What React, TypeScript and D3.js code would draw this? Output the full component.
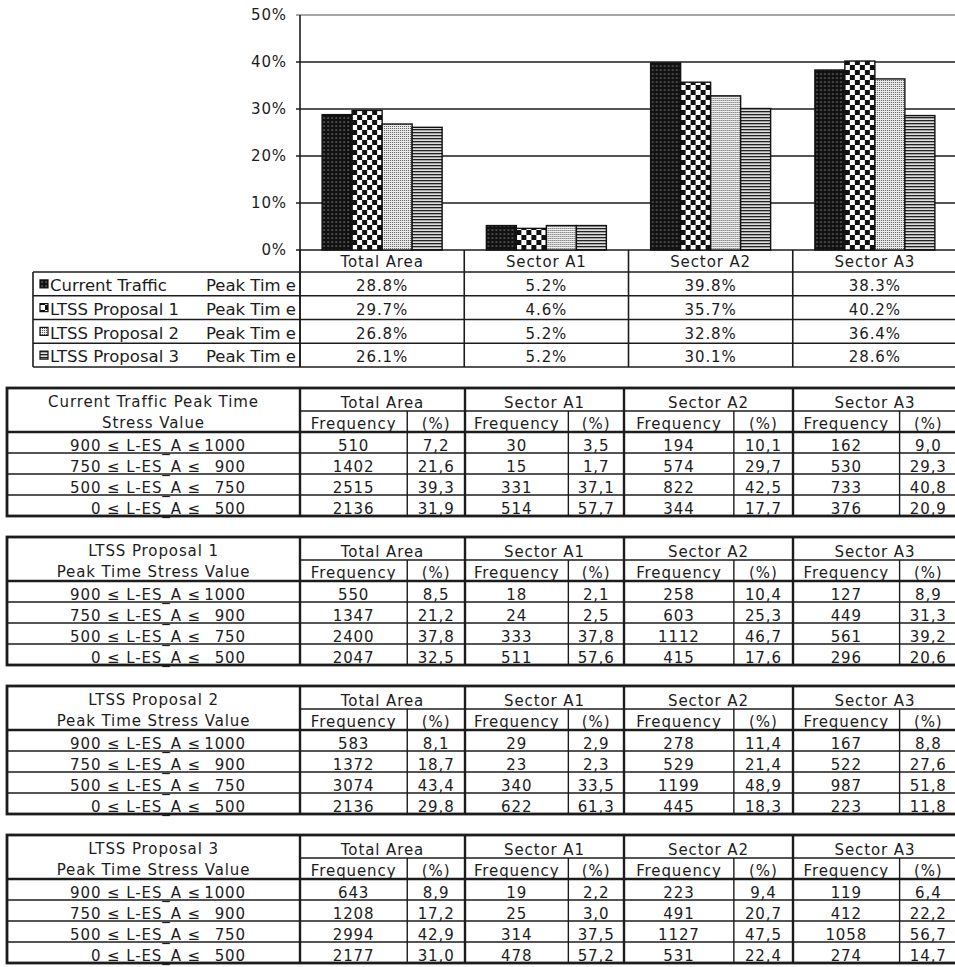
import React from 'react';
import * as d3 from 'd3';

// ---------- data ----------
const categories = ['Total Area', 'Sector A1', 'Sector A2', 'Sector A3'];
const seriesNames = ['Current Traffic', 'LTSS Proposal 1', 'LTSS Proposal 2', 'LTSS Proposal 3'];
const seriesSuffix = 'Peak Tim e';
const currentTraffic = [28.8, 5.2, 39.8, 38.3];
const proposal1 = [29.7, 4.6, 35.7, 40.2];
const proposal2 = [26.8, 5.2, 32.8, 36.4];
const proposal3 = [26.1, 5.2, 30.1, 28.6];
const seriesValues = [currentTraffic, proposal1, proposal2, proposal3];
const yTicks = [0, 10, 20, 30, 40, 50];

const stressRanges = [
  ['900', '1000'],
  ['750', '900'],
  ['500', '750'],
  ['0', '500'],
];
const tableTitles = [
  ['Current Traffic Peak Time', 'Stress Value'],
  ['LTSS Proposal 1', 'Peak Time Stress Value'],
  ['LTSS Proposal 2', 'Peak Time Stress Value'],
  ['LTSS Proposal 3', 'Peak Time Stress Value'],
];
const subHeaders = ['Frequency', '(%)'];

const table1Freq = [[510, 30, 194, 162], [1402, 15, 574, 530], [2515, 331, 822, 733], [2136, 514, 344, 376]];
const table1Pct = [[7.2, 3.5, 10.1, 9.0], [21.6, 1.7, 29.7, 29.3], [39.3, 37.1, 42.5, 40.8], [31.9, 57.7, 17.7, 20.9]];
const table2Freq = [[550, 18, 258, 127], [1347, 24, 603, 449], [2400, 333, 1112, 561], [2047, 511, 415, 296]];
const table2Pct = [[8.5, 2.1, 10.4, 8.9], [21.2, 2.5, 25.3, 31.3], [37.8, 37.8, 46.7, 39.2], [32.5, 57.6, 17.6, 20.6]];
const table3Freq = [[583, 29, 278, 167], [1372, 23, 529, 522], [3074, 340, 1199, 987], [2136, 622, 445, 223]];
const table3Pct = [[8.1, 2.9, 11.4, 8.8], [18.7, 2.3, 21.4, 27.6], [43.4, 33.5, 48.9, 51.8], [29.8, 61.3, 18.3, 11.8]];
const table4Freq = [[643, 19, 223, 119], [1208, 25, 491, 412], [2994, 314, 1127, 1058], [2177, 478, 531, 274]];
const table4Pct = [[8.9, 2.2, 9.4, 6.4], [17.2, 3.0, 20.7, 22.2], [42.9, 37.5, 47.5, 56.7], [31.0, 57.2, 22.4, 14.7]];
const tableFreqs = [table1Freq, table2Freq, table3Freq, table4Freq];
const tablePcts = [table1Pct, table2Pct, table3Pct, table4Pct];

// ---------- layout ----------
const W = 955;
const H = 967;
const FONT = 'DejaVu Sans';
const INK = '#1c1c1c';
const patternIds = ['pDots', 'pChecker', 'pFine', 'pLines'];

const fmtPct = d3.format('.1f');
const fmtComma = (v: number) => d3.format('.1f')(v).replace('.', ',');

function Table({ index, top }: { index: number; top: number }) {
  const left = 7;
  const labelRight = 300;
  const groupEdges = [300, 465, 624, 793, 957];
  const h1 = 23;
  const h2 = 21;
  const rowY = d3.scaleBand().domain(stressRanges.map((r) => r[0])).range([top + h1 + h2, top + h1 + h2 + 84]);
  const bottom = top + h1 + h2 + 84;
  const freqs = tableFreqs[index];
  const pcts = tablePcts[index];
  const textStyle = { fontFamily: FONT, fontSize: 15, letterSpacing: 0.9, fill: INK } as const;
  return (
    <g>
      {/* row lines */}
      <line x1={labelRight} x2={W} y1={top + h1} y2={top + h1} stroke={INK} strokeWidth={1.4} />
      <line x1={left} x2={W} y1={top + h1 + h2} y2={top + h1 + h2} stroke={INK} strokeWidth={2.4} />
      {stressRanges.slice(1).map((r) => (
        <line key={r[0]} x1={left} x2={W} y1={rowY(r[0])} y2={rowY(r[0])} stroke={INK} strokeWidth={1.4} />
      ))}
      {/* group dividers */}
      {groupEdges.slice(0, 4).map((gx, gi) => {
        const split = gx + (groupEdges[gi + 1] - gx) * 0.65;
        return (
          <g key={gi}>
            <line x1={gx} x2={gx} y1={top} y2={bottom} stroke={INK} strokeWidth={2.4} />
            <line x1={split} x2={split} y1={top + h1} y2={bottom} stroke={INK} strokeWidth={1.4} />
            <text x={(gx + groupEdges[gi + 1]) / 2} y={top + h1 - 3} textAnchor="middle" {...textStyle}>
              {categories[gi]}
            </text>
            <text x={(gx + split) / 2} y={top + h1 + h2 - 3} textAnchor="middle" {...textStyle}>
              {subHeaders[0]}
            </text>
            <text x={(split + groupEdges[gi + 1]) / 2} y={top + h1 + h2 - 3} textAnchor="middle" {...textStyle}>
              {subHeaders[1]}
            </text>
            {stressRanges.map((r, ri) => (
              <g key={r[0]}>
                <text x={(gx + split) / 2} y={(rowY(r[0]) as number) + rowY.bandwidth() - 2.5} textAnchor="middle" {...textStyle}>
                  {freqs[ri][gi]}
                </text>
                <text x={(split + groupEdges[gi + 1]) / 2} y={(rowY(r[0]) as number) + rowY.bandwidth() - 2.5} textAnchor="middle" {...textStyle}>
                  {fmtComma(pcts[ri][gi])}
                </text>
              </g>
            ))}
          </g>
        );
      })}
      {/* titles */}
      <text x={(left + labelRight) / 2} y={top + 19} textAnchor="middle" {...textStyle}>
        {tableTitles[index][0]}
      </text>
      <text x={(left + labelRight) / 2} y={top + 40} textAnchor="middle" {...textStyle}>
        {tableTitles[index][1]}
      </text>
      {stressRanges.map((r) => (
        <g key={r[0]}>
          <text x={201} y={(rowY(r[0]) as number) + rowY.bandwidth() - 2.5} textAnchor="end" {...textStyle}>
            {`${r[0]} ≤ L-ES_A ≤`}
          </text>
          <text x={246} y={(rowY(r[0]) as number) + rowY.bandwidth() - 2.5} textAnchor="end" {...textStyle}>
            {r[1]}
          </text>
        </g>
      ))}
      {/* outer border */}
      <rect x={left} y={top} width={W - left + 4} height={bottom - top} fill="none" stroke={INK} strokeWidth={2.8} />
    </g>
  );
}

export default function App() {
  const x0 = d3.scaleBand().domain(categories).range([300, 957]);
  const groupW = 120;
  const x1 = d3.scaleBand().domain(seriesNames).range([0, groupW]);
  const y = d3.scaleLinear().domain([0, 50]).range([250, 15]);
  const legendRows = d3.scaleBand().domain(seriesNames).range([272, 367]);
  const tableTops = [388, 537, 686, 835];

  return (
    <svg width={W} height={H} style={{ position: 'absolute', left: 0, top: 0, background: '#fff' }}>
      <defs>
        <pattern id="pDots" width={4} height={4} patternUnits="userSpaceOnUse">
          <rect width={4} height={4} fill="#111" />
          <rect x={1.5} y={1.5} width={1.1} height={1.1} fill="#bbb" />
        </pattern>
        <pattern id="pChecker" width={10} height={10} patternUnits="userSpaceOnUse">
          <rect width={10} height={10} fill="#fff" />
          <rect x={0} y={0} width={5} height={5} fill="#111" />
          <rect x={5} y={5} width={5} height={5} fill="#111" />
        </pattern>
        <pattern id="pFine" width={2} height={2} patternUnits="userSpaceOnUse">
          <rect width={2} height={2} fill="#eee" />
          <rect width={1} height={1} fill="#555" />
        </pattern>
        <pattern id="pLines" width={4} height={3} patternUnits="userSpaceOnUse">
          <rect width={4} height={3} fill="#ddd" />
          <rect width={4} height={1.3} fill="#222" />
        </pattern>
      </defs>
      <rect width={W} height={H} fill="#fff" />

      {/* gridlines & y labels */}
      {yTicks.map((t) => (
        <g key={t}>
          <line x1={296} x2={W} y1={y(t)} y2={y(t)} stroke={t === 50 ? '#8a8a8a' : INK} strokeWidth={t === 50 ? 1.4 : 1.6} />
          <text x={287} y={y(t) + 5} textAnchor="end" fontFamily={FONT} fontSize={15} letterSpacing={0.9} fill={INK}>
            {`${t}%`}
          </text>
        </g>
      ))}
      <line x1={300} x2={300} y1={y(50)} y2={367} stroke={INK} strokeWidth={1.6} />

      {/* bars */}
      {categories.map((c, ci) => (
        <g key={c} transform={`translate(${(x0(c) as number) + (x0.bandwidth() - groupW) / 2},0)`}>
          {seriesNames.map((s, si) => (
            <rect
              key={s}
              x={x1(s)}
              y={y(seriesValues[si][ci])}
              width={x1.bandwidth()}
              height={y(0) - y(seriesValues[si][ci])}
              fill={`url(#${patternIds[si]})`}
              stroke="#111"
              strokeWidth={1.4}
            />
          ))}
        </g>
      ))}

      {/* category header row & data table */}
      <line x1={300} x2={W} y1={272} y2={272} stroke={INK} strokeWidth={1.6} />
      <line x1={33} x2={300} y1={272} y2={272} stroke={INK} strokeWidth={1.6} />
      {categories.map((c) => (
        <g key={c}>
          <line x1={x0(c)} x2={x0(c)} y1={250} y2={367} stroke={INK} strokeWidth={1.6} />
          <text x={(x0(c) as number) + x0.bandwidth() / 2} y={267} textAnchor="middle" fontFamily={FONT} fontSize={15} letterSpacing={0.9} fill={INK}>
            {c}
          </text>
        </g>
      ))}
      {seriesNames.map((s, si) => {
        const ry = legendRows(s) as number;
        const bh = legendRows.bandwidth();
        return (
          <g key={s}>
            <line x1={33} x2={W} y1={ry + bh} y2={ry + bh} stroke={INK} strokeWidth={1.6} />
            <rect x={40} y={ry + bh / 2 - 4} width={8} height={8} fill={`url(#${patternIds[si]})`} stroke="#111" strokeWidth={1.2} />
            <text x={50} y={ry + 19} fontFamily={FONT} fontSize={16.5} fill={INK}>
              {s}
            </text>
            <text x={296} y={ry + 19} textAnchor="end" fontFamily={FONT} fontSize={16.5} fill={INK}>
              {seriesSuffix}
            </text>
            {categories.map((c, ci) => (
              <text key={c} x={(x0(c) as number) + x0.bandwidth() / 2} y={ry + 19} textAnchor="middle" fontFamily={FONT} fontSize={15} letterSpacing={0.9} fill={INK}>
                {`${fmtPct(seriesValues[si][ci])}%`}
              </text>
            ))}
          </g>
        );
      })}
      <line x1={33} x2={33} y1={272} y2={367} stroke={INK} strokeWidth={1.6} />

      {/* frequency tables */}
      {tableTops.map((t, i) => (
        <Table key={i} index={i} top={t} />
      ))}
    </svg>
  );
}
